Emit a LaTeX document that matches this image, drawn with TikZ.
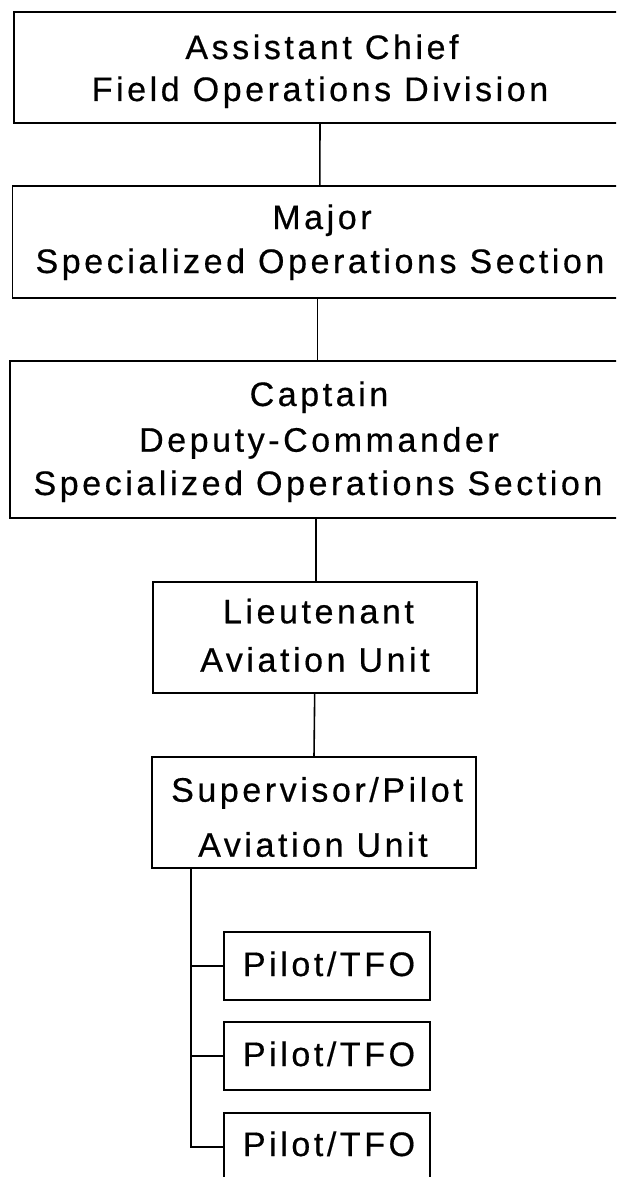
\documentclass[tikz,border=0pt]{standalone}
\usepackage{fontspec}
\setmainfont{Liberation Sans}[LetterSpace=10.5,FakeBold=0.5]
\tikzset{
  box/.style={draw, line width=1.6pt, inner sep=0pt, outer sep=0pt},
  txt/.style={anchor=base, inner sep=0pt, outer sep=0pt, font=\fontsize{34}{40}\selectfont},
  link/.style={line width=1.6pt}
}
\begin{document}
\begin{tikzpicture}[x=1pt,y=-1pt]
\useasboundingbox (0,0) rectangle (616,1177);
\clip (0,0) rectangle (616,1177);
\fill[white] (0,0) rectangle (616,1177);
% boxes
\node[box, minimum width=612pt, minimum height=111pt] (b1) at (320,67.5) {};
\node[box, minimum width=614.4pt, minimum height=112pt] (b2) at (319.8,242) {};
\node[box, minimum width=615pt, minimum height=157pt] (b3) at (317.5,439.5) {};
\node[box, minimum width=324pt, minimum height=111pt] (lt) at (314.7,637.5) {};
\node[box, minimum width=324pt, minimum height=111pt] (sv) at (314,812.5) {};
\node[box, minimum width=206pt, minimum height=68pt] (p1) at (327,966) {};
\node[box, minimum width=206pt, minimum height=68pt] (p2) at (327,1056) {};
\node[box, minimum width=206pt, minimum height=68pt] (p3) at (327,1147) {};
% texts
\node[txt] (t1a) at (322,59) {Assistant Chief};
\node[txt] (t1b) at (320,101) {Field Operations Division};
\node[txt] (t2a) at (322,229) {Major};
\node[txt] (t2b) at (320,273) {Specialized Operations Section};
\node[txt] (t3a) at (319,406) {Captain};
\node[txt] (t3b) at (319,451.7) {Deputy-Commander};
\node[txt] (t3c) at (318,495) {Specialized Operations Section};
\node[txt] (t4a) at (318.5,623.3) {Lieutenant};
\node[txt] (t4b) at (315,671.7) {Aviation Unit};
\node[txt] (t5a) at (317,801.7) {Supervisor/Pilot};
\node[txt] (t5b) at (313,856.7) {Aviation Unit};
\node[txt] (t6) at (329,976) {Pilot/TFO};
\node[txt] (t7) at (329,1066) {Pilot/TFO};
\node[txt] (t8) at (329,1156) {Pilot/TFO};
% connectors
\draw[link] (b1.south) -- (b2.north);
\draw[link] (b3.north) -- (b3.north |- b2.south);
\draw[link] ([xshift=1.3pt]lt.north) -- ([xshift=1.3pt]lt.north |- b3.south);
\draw[link] (lt.south) -- (sv.north);
\coordinate (tr) at ([xshift=-123.3pt]sv.south);
\draw[link] (tr) |- (p1.west);
\draw[link] (tr) |- (p2.west);
\draw[link] (tr) |- (p3.west);
\end{tikzpicture}
\end{document}
